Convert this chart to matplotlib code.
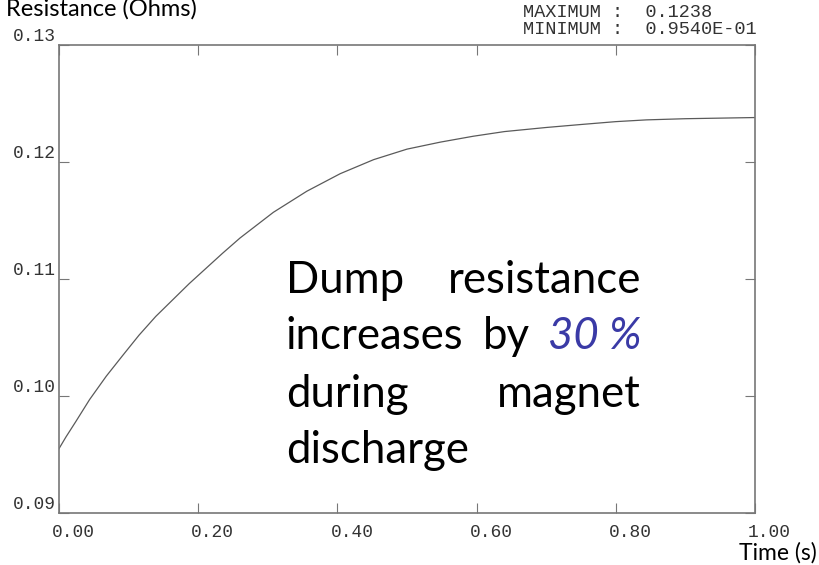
import matplotlib.pyplot as plt
from matplotlib.transforms import ScaledTranslation

# Сопротивление разрядного резистора во времени
time_s = [0.0, 0.010, 0.024, 0.044, 0.068, 0.092, 0.115, 0.139, 0.163, 0.187,
          0.211, 0.235, 0.260, 0.308, 0.356, 0.404, 0.452, 0.500, 0.548, 0.595,
          0.640, 0.700, 0.749, 0.800, 0.844, 0.900, 0.950, 1.0]
resistance = [0.0955, 0.0965, 0.0978, 0.0997, 0.1017, 0.1035, 0.1052, 0.1068,
              0.1082, 0.1096, 0.1109, 0.1122, 0.1135, 0.1157, 0.1175, 0.1190,
              0.1202, 0.1211, 0.1217, 0.1222, 0.1226, 0.12295, 0.1232, 0.12345,
              0.1236, 0.1237, 0.12375, 0.1238]

x_ticks = [0.0, 0.2, 0.4, 0.6, 0.8, 1.0]
x_labels = ["0.00", "0.20", "0.40", "0.60", "0.80", "1.00"]
y_ticks = [0.09, 0.10, 0.11, 0.12, 0.13]
y_labels = ["0.09", "0.10", "0.11", "0.12", "0.13"]

mono = "Liberation Mono"
body = "Lato"

fig = plt.figure(figsize=(8.19, 5.65), dpi=100)
ax = fig.add_axes([59 / 819, 52 / 565, 696 / 819, 468 / 565])

ax.plot(time_s, resistance, color="#5a5a5a", linewidth=0.9)

ax.set_xlim(0, 1)
ax.set_ylim(0.09, 0.13)
ax.set_xticks(x_ticks)
ax.set_xticklabels(x_labels, fontfamily=mono, fontsize=12.9, color="#333333")
ax.set_yticks(y_ticks)
ax.set_yticklabels(y_labels, fontfamily=mono, fontsize=12.9, color="#333333")
ax.tick_params(direction="in", length=7, width=0.8, color="#777777",
               top=True, right=True)
ax.tick_params(axis="x", pad=8)
ax.tick_params(axis="y", pad=2)
for s in ax.spines.values():
    s.set_color("#777777")
    s.set_linewidth(1.2)

# подписи осей x сдвинуты влево от делений, подписи y стоят над делениями
for lbl in ax.get_xticklabels():
    lbl.set_horizontalalignment("left")
    lbl.set_transform(lbl.get_transform() + ScaledTranslation(-5 / 72, 0, fig.dpi_scale_trans))
for lbl in ax.get_yticklabels():
    lbl.set_verticalalignment("bottom")

px = lambda x, y: (x / 819, 1 - y / 565)

fig.text(*px(197, 16), "Resistance (Ohms)", ha="right", va="baseline",
         fontfamily=body, fontsize=17, color="black")
fig.text(*px(817, 560), "Time (s)", ha="right", va="baseline",
         fontfamily=body, fontsize=16.5, color="black")

fig.text(*px(523, 17), "MAXIMUM :  0.1238", ha="left", va="baseline",
         fontfamily=mono, fontsize=13.4, color="#333333")
fig.text(*px(523, 34), "MINIMUM :  0.9540E-01", ha="left", va="baseline",
         fontfamily=mono, fontsize=13.4, color="#333333")

# аннотация, выровненная по ширине
fs = 31.5
left, right = 286, 641
fig.text(*px(left, 293), "Dump", ha="left", va="baseline", fontfamily=body, fontsize=fs)
fig.text(*px(right, 293), "resistance", ha="right", va="baseline", fontfamily=body, fontsize=fs)
fig.text(*px(left, 349), "increases", ha="left", va="baseline", fontfamily=body, fontsize=fs)
fig.text(*px(483, 349), "by", ha="left", va="baseline", fontfamily=body, fontsize=fs)
fig.text(*px(right, 349), "30 %", ha="right", va="baseline", fontfamily=body,
         fontsize=fs, style="italic", color="#3a3aa6")
fig.text(*px(left, 407), "during", ha="left", va="baseline", fontfamily=body, fontsize=fs)
fig.text(*px(right, 407), "magnet", ha="right", va="baseline", fontfamily=body, fontsize=fs)
fig.text(*px(left, 463), "discharge", ha="left", va="baseline", fontfamily=body, fontsize=fs)

fig.savefig("out.png", dpi=100)
